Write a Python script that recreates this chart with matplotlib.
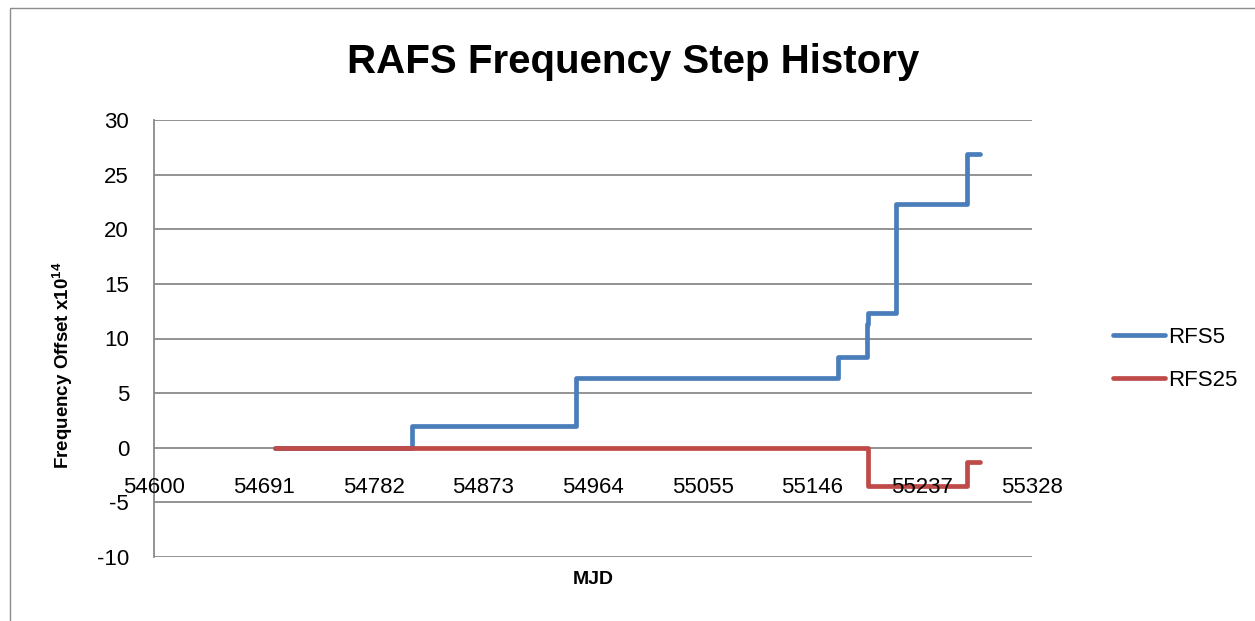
import matplotlib
matplotlib.use("Agg")
import matplotlib.pyplot as plt
from matplotlib.patches import Rectangle

# step change points (MJD) and frequency offset levels (x1e-14)
rfs5_mjd = [54700, 54814, 54950, 55167, 55191, 55192, 55215, 55274, 55285]
rfs5_val = [0.0, 2.0, 6.35, 8.35, 11.3, 12.35, 22.35, 26.85, 26.85]

rfs25_mjd = [54700, 55192, 55274, 55285]
rfs25_val = [0.0, -3.5, -1.35, -1.35]

x_ticks = [54600, 54691, 54782, 54873, 54964, 55055, 55146, 55237, 55328]
y_ticks = [-10, -5, 0, 5, 10, 15, 20, 25, 30]

plt.rcParams["font.family"] = ["Liberation Sans", "DejaVu Sans"]
plt.rcParams["axes.unicode_minus"] = False
plt.rcParams["mathtext.fontset"] = "custom"
plt.rcParams["mathtext.bf"] = "Liberation Sans:bold"

fig = plt.figure(figsize=(12.55, 6.21), dpi=100)
ax = fig.add_axes([154 / 1255, 64 / 621, 878 / 1255, 437 / 621])

# outer chart border like the spreadsheet frame
fig.patches.append(Rectangle((10 / 1255, -0.01), 1.1, 0.999 - 7 / 621 + 0.01,
                             transform=fig.transFigure, fill=False,
                             edgecolor="#8c8c8c", linewidth=1.0))

grid_c = "#8a8a8a"
for y in y_ticks:
    ax.axhline(y, color=grid_c, linewidth=1.3, zorder=1)

ax.plot(rfs5_mjd, rfs5_val, drawstyle="steps-post", color="#4a7ebb",
        linewidth=3.4, solid_capstyle="round", label="RFS5", zorder=3)
ax.plot(rfs25_mjd, rfs25_val, drawstyle="steps-post", color="#be4b48",
        linewidth=3.4, solid_capstyle="round", label="RFS25", zorder=3)

ax.set_xlim(54600, 55328)
ax.set_ylim(-10, 30)
ax.set_yticks(y_ticks)
ax.set_xticks(x_ticks)

for s in ["top", "right", "bottom"]:
    ax.spines[s].set_visible(False)
ax.spines["left"].set_color(grid_c)
ax.spines["left"].set_linewidth(1.3)

ax.tick_params(axis="y", length=0, labelsize=16, pad=18)
ax.tick_params(axis="x", length=0, labelsize=16, pad=0)
# x tick labels sit just under the zero line
ax.set_xticklabels([])
for xt in x_ticks:
    ax.text(xt, -2.7, str(xt), ha="center", va="top", fontsize=16)

fig.text(633 / 1255, 1 - 62 / 621, "RAFS Frequency Step History",
         fontsize=29, fontweight="bold", ha="center", va="center")
ax.set_ylabel(r"Frequency Offset x10$^{\mathbf{14}}$", fontsize=13.5, fontweight="bold")
ax.yaxis.set_label_coords(-(154 - 75) / 878, (557 - 365) / 437)
ax.set_xlabel("MJD", fontsize=14, fontweight="bold", labelpad=10)

ax.legend(loc="center left", bbox_to_anchor=(1.07, (557 - 359) / 437), frameon=False,
          fontsize=16, handlelength=2.3, labelspacing=1.0, handletextpad=0.15)

fig.savefig("out.png", dpi=100)
